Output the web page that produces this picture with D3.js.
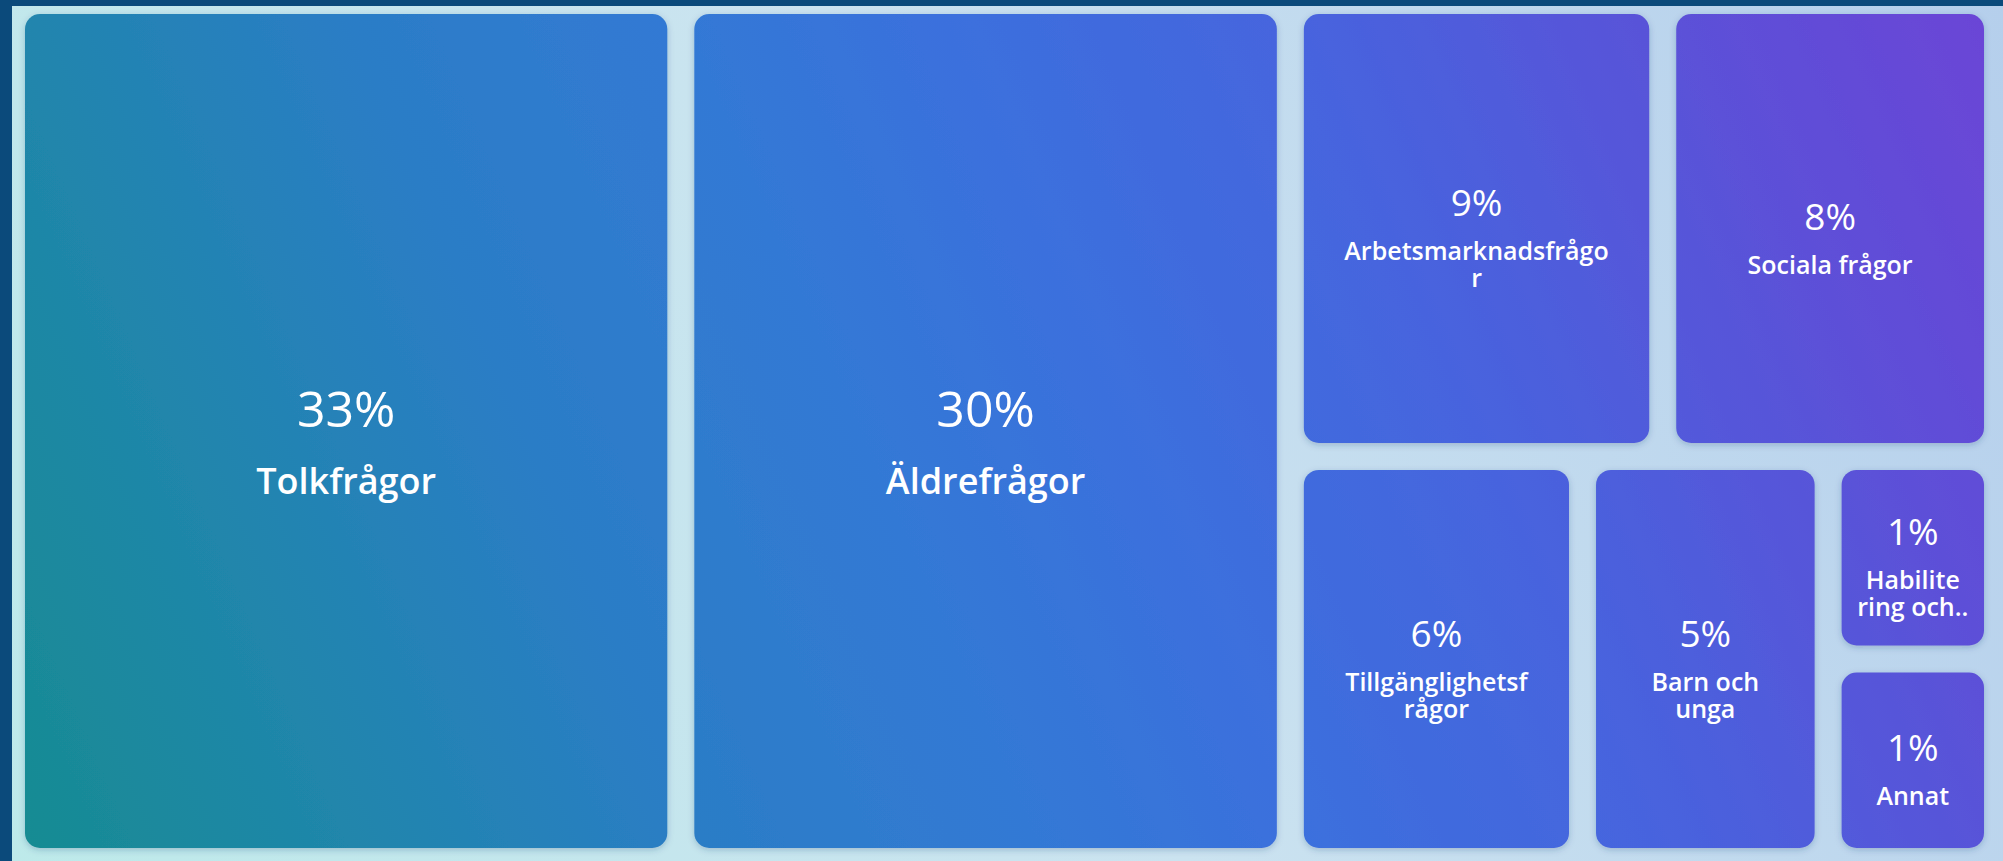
<!DOCTYPE html>
<html>
<head>
<meta charset="utf-8">
<script src="https://cdn.jsdelivr.net/npm/d3@7"></script>
<style>
    body { margin: 0; background: #0b4a7b; overflow: hidden; }
    svg { display: block; }
</style>
</head>
<body>
<script>

// categories of the treemap, in the order they are laid out
var categories = ["Tolkfrågor", "Äldrefrågor", "Arbetsmarknadsfrågor", "Sociala frågor",
                  "Tillgänglighetsfrågor", "Barn och unga", "Habilitering och..", "Annat"];

// share of each category (read from the tile areas)
var shares = [33.6, 30.6, 9.9, 8.9, 6.9, 5.8, 2.0, 2.0];

// percentage text shown on the tiles
var percentLabels = ["33%", "30%", "9%", "8%", "6%", "5%", "1%", "1%"];

// category text as it is wrapped on the tiles
var labelLines = [["Tolkfrågor"], ["Äldrefrågor"], ["Arbetsmarknadsfrågo", "r"], ["Sociala frågor"],
                  ["Tillgänglighetsf", "rågor"], ["Barn och", "unga"], ["Habilite", "ring och.."], ["Annat"]];

var totalWidth = 2003,
    totalHeight = 861,
    margin = {top: 14, right: 19, bottom: 13, left: 25},
    width = totalWidth - margin.left - margin.right,
    height = totalHeight - margin.top - margin.bottom;

window.onload = function() {
    makeTreemap();
};

/*
 * Draw the treemap with d3.
 */
function makeTreemap()
{
    var svg = d3.select("body").append("svg")
        .attr("width", totalWidth)
        .attr("height", totalHeight);

    var defs = svg.append("defs");

    // light background gradient
    var bg = defs.append("linearGradient")
        .attr("id", "bgGrad")
        .attr("gradientUnits", "userSpaceOnUse")
        .attr("x1", totalWidth).attr("y1", 0)
        .attr("x2", 0).attr("y2", totalHeight);
    bg.append("stop").attr("offset", 0).attr("stop-color", "#b5cfec");
    bg.append("stop").attr("offset", 0.5).attr("stop-color", "#cbe3f0");
    bg.append("stop").attr("offset", 1).attr("stop-color", "#bdeaea");

    // one gradient over the whole chart, teal -> blue -> purple
    var tileGrad = defs.append("linearGradient")
        .attr("id", "tileGrad")
        .attr("gradientUnits", "userSpaceOnUse")
        .attr("x1", 0).attr("y1", totalHeight)
        .attr("x2", totalWidth).attr("y2", 0);
    var stops = [[0, "#168c90"], [0.15, "#2086ab"], [0.3, "#2b7dc6"], [0.44, "#3379d5"],
                 [0.55, "#3b70dd"], [0.7, "#4764de"], [0.85, "#5a52d8"], [1, "#6c44d6"]];
    stops.forEach(function(s) {
        tileGrad.append("stop").attr("offset", s[0]).attr("stop-color", s[1]);
    });

    // soft shadow below the tiles
    var shadow = defs.append("filter")
        .attr("id", "shadow")
        .attr("x", "-10%").attr("y", "-10%")
        .attr("width", "120%").attr("height", "120%");
    shadow.append("feDropShadow")
        .attr("dx", 0).attr("dy", 2)
        .attr("stdDeviation", 3)
        .attr("flood-color", "#1b3f73")
        .attr("flood-opacity", 0.25);

    // dark frame on the left and top, light panel behind the tiles
    svg.append("rect")
        .attr("width", totalWidth)
        .attr("height", totalHeight)
        .attr("fill", "#0b4a7b");
    svg.append("rect")
        .attr("x", 12).attr("y", 6)
        .attr("width", totalWidth - 12)
        .attr("height", totalHeight - 6)
        .attr("fill", "url(#bgGrad)");

    // build the hierarchy from the arrays
    var data = {name: "root", children: categories.map(function(c, i) {
        return {name: c, value: shares[i], pct: percentLabels[i], lines: labelLines[i]};
    })};

    var root = d3.hierarchy(data)
        .sum(function(d) { return d.value; })
        .sort(function(a, b) { return b.value - a.value; });

    d3.treemap()
        .tile(d3.treemapSquarify.ratio(1))
        .size([width, height])
        .paddingInner(27)(root);

    // shift the layout into page space (the gradient is in page space)
    root.leaves().forEach(function(d) {
        d.x0 += margin.left; d.x1 += margin.left;
        d.y0 += margin.top; d.y1 += margin.top;
    });

    var cell = svg.selectAll(".cell")
        .data(root.leaves())
        .enter().append("g")
            .attr("class", "cell");

    // the tiles
    cell.append("rect")
        .attr("x", function(d) { return d.x0; })
        .attr("y", function(d) { return d.y0; })
        .attr("width", function(d) { return d.x1 - d.x0; })
        .attr("height", function(d) { return d.y1 - d.y0; })
        .attr("rx", 15)
        .attr("ry", 15)
        .style("filter", "url(#shadow)")
        .attr("fill", "url(#tileGrad)");

    // text on each tile
    cell.each(function(d) {
        var w = d.x1 - d.x0,
            big = w > 400,
            pctSize = big ? 50 : 37,
            labelSize = big ? 36 : 25,
            gap = big ? 67 : 44,
            lineH = big ? 40 : 27,
            offset = big ? 12 : 10,
            cx = (d.x0 + d.x1) / 2,
            cy = (d.y0 + d.y1) / 2,
            lines = d.data.lines,
            pctCap = pctSize * 0.714,
            blockH = pctCap + gap + (lines.length - 1) * lineH,
            base = cy + offset - blockH / 2 + pctCap;

        var t = d3.select(this);

        // percentage
        t.append("text")
            .attr("x", cx)
            .attr("y", base)
            .attr("text-anchor", "middle")
            .attr("fill", "#ffffff")
            .style("font-family", "'Open Sans', sans-serif")
            .style("font-size", pctSize + "px")
            .style("font-weight", 500)
            .text(d.data.pct);

        // category name, wrapped lines in one text
        var label = t.append("text")
            .attr("x", cx)
            .attr("y", base + gap)
            .attr("text-anchor", "middle")
            .attr("fill", "#ffffff")
            .style("font-family", "'Open Sans', sans-serif")
            .style("font-size", labelSize + "px")
            .style("font-weight", 600);

        label.selectAll("tspan")
            .data(lines)
            .enter().append("tspan")
                .attr("x", cx)
                .attr("dy", function(l, i) { return i == 0 ? 0 : lineH; })
                .text(function(l) { return l; });
    });
}
</script>
</body>
</html>
